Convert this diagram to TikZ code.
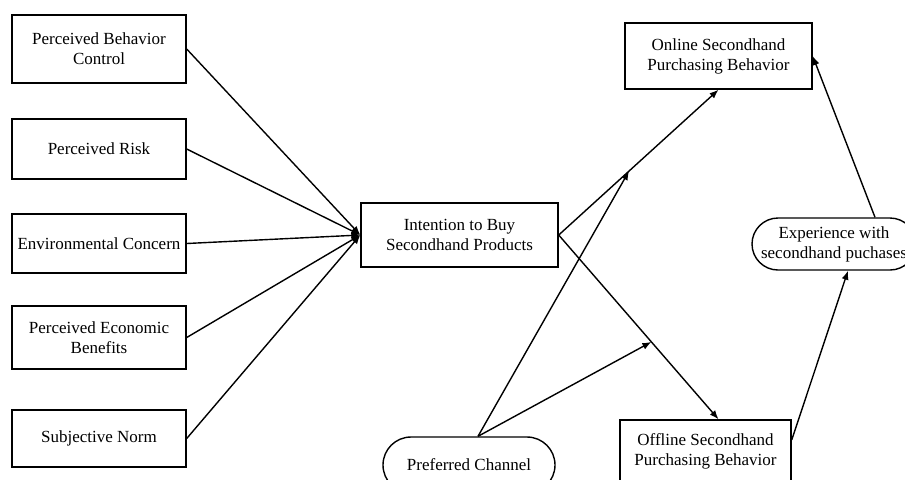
\documentclass[tikz,border=0pt]{standalone}
\usepackage{fontspec}
\setmainfont{Liberation Serif}
\usepackage{tikz}
\usetikzlibrary{arrows.meta,positioning,calc}

\begin{document}
\begin{tikzpicture}[x=0.5pt, y=-0.5pt, >={Latex[length=4.5pt,width=3.5pt]},
    font=\fontsize{8.5}{10}\selectfont,
    factor/.style={rectangle, draw, line width=0.7pt, align=center, minimum width=87pt, inner sep=0pt},
    outcome/.style={rectangle, draw, line width=0.7pt, align=center, inner sep=0pt},
    moder/.style={rectangle, draw, line width=0.7pt, align=center, inner sep=0pt, rounded corners=13pt},
    link/.style={->, line width=0.7pt}]

    \useasboundingbox (0,0) rectangle (905,479);

    % antecedents
    \node[factor, minimum height=34pt] (pbc) at (99,49) {Perceived Behavior\\Control};
    \node[factor, minimum height=30pt] (risk) at (99,149) {Perceived Risk};
    \node[factor, minimum height=29.5pt] (env) at (99,243.5) {Environmental Concern};
    \node[factor, minimum height=31.5pt] (econ) at (99,337.5) {Perceived Economic\\Benefits};
    \node[factor, minimum height=28.5pt] (norm) at (99,438.5) {Subjective Norm};

    % intention and behaviours
    \node[outcome, minimum width=98.5pt, minimum height=32pt] (int) at (459.5,235) {Intention to Buy\\Secondhand Products};
    \node[outcome, minimum width=93.5pt, minimum height=33pt] (on) at (718.5,56) {Online Secondhand\\Purchasing Behavior};
    \node[outcome, minimum width=85.5pt, minimum height=31pt] (off) at (705.5,451) {Offline Secondhand\\Purchasing Behavior};

    % moderators
    \node[moder, minimum width=82pt, minimum height=26pt] (exp) at (834,244) {Experience with\\secondhand puchases};
    \node[moder, minimum width=86pt, minimum height=28pt, rounded corners=14pt] (pref) at (469,465) {Preferred Channel};

    \foreach \f in {pbc,risk,env,econ,norm}
        \draw[link] (\f.east) -- (int.west);

    \draw[link] (int.east) -- coordinate[pos=0.44] (m1) (on.south);
    \draw[link] (int.east) -- coordinate[pos=0.58] (m2) (on.south |- off.north);

    \draw[link] ([xshift=4.5pt]pref.north) -- (m1);
    \draw[link] ([xshift=4.5pt]pref.north) -- (m2);

    \draw[link] ([yshift=5.5pt]off.east) -- ([xshift=7pt]exp.south);
    \draw[link] ([xshift=20.5pt]exp.north) -- (on.east);

\end{tikzpicture}
\end{document}
